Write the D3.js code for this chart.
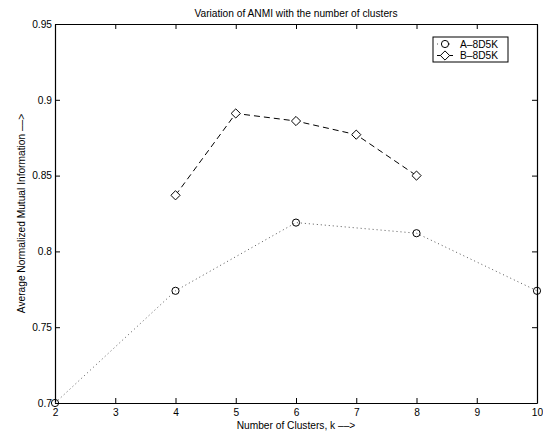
<!DOCTYPE html>
<html><head><meta charset="utf-8">
<script src="https://cdn.jsdelivr.net/npm/d3@7"></script>
<style>body{margin:0;background:#fff}svg{display:block;font-family:"Liberation Sans",Arial,sans-serif}</style>
</head><body>
<svg id="c" width="543" height="431"></svg>
<script>
const kA = [2, 4, 6, 8, 10];
const valuesA = [0.700, 0.774, 0.819, 0.812, 0.774];
const kB = [4, 5, 6, 7, 8];
const valuesB = [0.837, 0.891, 0.886, 0.877, 0.850];
const xTicks = [2, 3, 4, 5, 6, 7, 8, 9, 10];
const yTicks = [0.7, 0.75, 0.8, 0.85, 0.9, 0.95];
const seriesNames = ["A\u20138D5K", "B\u20138D5K"];

const svg = d3.select("#c");
const L = 55, R = 537, T = 24, B = 403;
const x = d3.scaleLinear().domain([2, 10]).range([L, R]);
const y = d3.scaleLinear().domain([0.7, 0.95]).range([B, T]);

const fs = 10.2;
const gB = svg.append("g").attr("transform", `translate(0,${B})`)
  .call(d3.axisBottom(x).tickValues(xTicks).tickSizeInner(-5).tickSizeOuter(0).tickPadding(6).tickFormat(d3.format("d")));
const gT = svg.append("g").attr("transform", `translate(0,${T})`)
  .call(d3.axisTop(x).tickValues(xTicks).tickSizeInner(-5).tickSizeOuter(0).tickFormat(""));
const gL = svg.append("g").attr("transform", `translate(${L},0)`)
  .call(d3.axisLeft(y).tickValues(yTicks).tickSizeInner(-5).tickSizeOuter(0).tickPadding(3).tickFormat(d => d3.format("")(+d.toFixed(2))));
const gR = svg.append("g").attr("transform", `translate(${R},0)`)
  .call(d3.axisRight(y).tickValues(yTicks).tickSizeInner(-5).tickSizeOuter(0).tickFormat(""));
[gB, gT, gL, gR].forEach(g => {
  g.selectAll("path.domain").attr("stroke", "#000").attr("stroke-width", 1.2);
  g.selectAll(".tick line").attr("stroke", "#000").attr("stroke-width", 1);
  g.selectAll("text").attr("font-size", fs).attr("fill", "#000").attr("font-family", "Liberation Sans, Arial, sans-serif");
});

const line = d3.line().x(d => x(d[0])).y(d => y(d[1]));
const dA = kA.map((k, i) => [k, valuesA[i]]);
const dB = kB.map((k, i) => [k, valuesB[i]]);

svg.append("path").datum(dA).attr("d", line).attr("fill", "none")
  .attr("stroke", "#555").attr("stroke-width", 1).attr("stroke-dasharray", "1,3");
svg.append("path").datum(dB).attr("d", line).attr("fill", "none")
  .attr("stroke", "#000").attr("stroke-width", 1).attr("stroke-dasharray", "6,4");

svg.selectAll("circle.mA").data(dA).enter().append("circle")
  .attr("cx", d => x(d[0])).attr("cy", d => y(d[1])).attr("r", 3.6)
  .attr("fill", "none").attr("stroke", "#000").attr("stroke-width", 1);
const diamond = (cx, cy, s) => `M${cx},${cy - s}L${cx + s},${cy}L${cx},${cy + s}L${cx - s},${cy}Z`;
svg.selectAll("path.mB").data(dB).enter().append("path")
  .attr("d", d => diamond(x(d[0]), y(d[1]), 4.6))
  .attr("fill", "#fff").attr("stroke", "#000").attr("stroke-width", 1);

// legend
const lg = svg.append("g");
const lx = 433, ly = 37, lw = 75, lh = 25;
lg.append("rect").attr("x", lx).attr("y", ly).attr("width", lw).attr("height", lh)
  .attr("fill", "#fff").attr("stroke", "#000").attr("stroke-width", 1);
const rows = [ly + 7, ly + 18.5];
lg.append("line").attr("x1", lx + 4).attr("x2", lx + 20).attr("y1", rows[0]).attr("y2", rows[0])
  .attr("stroke", "#555").attr("stroke-dasharray", "1,3");
lg.append("circle").attr("cx", lx + 12).attr("cy", rows[0]).attr("r", 3.6).attr("fill", "#fff").attr("stroke", "#000");
lg.append("line").attr("x1", lx + 4).attr("x2", lx + 20).attr("y1", rows[1]).attr("y2", rows[1])
  .attr("stroke", "#000");
lg.append("path").attr("d", diamond(lx + 12, rows[1], 4.6)).attr("fill", "#fff").attr("stroke", "#000");
seriesNames.forEach((n, i) => {
  lg.append("text").attr("x", lx + 27).attr("y", rows[i]).attr("dy", "0.35em")
    .attr("font-size", fs).text(n);
});

// titles
svg.append("text").attr("x", (L + R) / 2).attr("y", 17).attr("text-anchor", "middle")
  .attr("font-size", fs).text("Variation of ANMI with the number of clusters");
svg.append("text").attr("x", (L + R) / 2).attr("y", 429).attr("text-anchor", "middle")
  .attr("font-size", fs).text("Number of Clusters, k \u2013\u2013>");
svg.append("text").attr("transform", `translate(25,${(T + B) / 2}) rotate(-90)`).attr("text-anchor", "middle")
  .attr("font-size", fs).text("Average Normalized Mutual Information \u2013\u2013>");
</script>
</body></html>
